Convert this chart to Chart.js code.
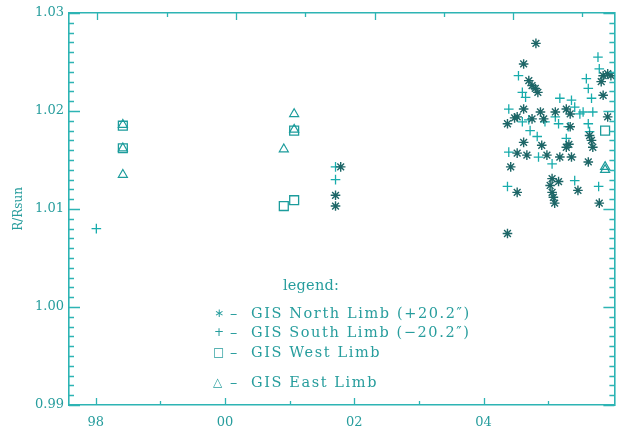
<!DOCTYPE html>
<html><head><meta charset="utf-8">
<script src="https://cdn.jsdelivr.net/npm/chart.js@4.4.1/dist/chart.umd.min.js"></script>
<style>
html,body{margin:0;padding:0;background:#fff;overflow:hidden;width:619px;height:432px;}
#wrap{position:relative;width:619px;height:432px;overflow:hidden;background:#fff;}
canvas{position:absolute;left:0;top:0;}
.lg{position:absolute;font-family:"DejaVu Serif",serif;font-size:14.5px;color:#279d9d;white-space:nowrap;letter-spacing:1.6px;line-height:16px;}
.sym{position:absolute;font-family:"DejaVu Sans",sans-serif;font-size:12px;color:#279d9d;line-height:16px;}
</style></head><body>
<div id="wrap">
<canvas id="c" width="622" height="432"></canvas>
<div class="lg" style="left:283px;top:277px;letter-spacing:0.2px;">legend:</div>
<div class="sym" style="left:214px;top:305px;">∗</div><div class="lg" style="left:230px;top:305px;">–</div><div class="lg" style="left:251px;top:305px;">GIS North Limb (+20.2″)</div>
<div class="sym" style="left:214px;top:324px;">+</div><div class="lg" style="left:230px;top:324px;">–</div><div class="lg" style="left:251px;top:324px;">GIS South Limb (−20.2″)</div>
<div class="sym" style="left:213px;top:344px;">□</div><div class="lg" style="left:230px;top:344px;">–</div><div class="lg" style="left:251px;top:344px;">GIS West Limb</div>
<div class="sym" style="left:213px;top:374px;">△</div><div class="lg" style="left:230px;top:374px;">–</div><div class="lg" style="left:251px;top:374px;">GIS East Limb</div>
</div>
<script>
// ---- data ----
const xTickYears  = [1998, 1999, 2000, 2001, 2002, 2003, 2004, 2005];
const xTickLabels = ['98', '', '00', '', '02', '', '04', ''];
const topTickValues = [0, 1, 2, 3, 4, 5, 6, 7];
const yMajorTicks = [0.99, 1.00, 1.01, 1.02, 1.03];
const yTickLabels = ['0.99', '1.00', '1.01', '1.02', '1.03'];

const northYears = [2001.79, 2001.71, 2001.71,
  2004.81, 2004.62, 2004.70, 2004.75, 2004.80, 2004.84, 2004.62, 2004.52, 2004.48, 2004.37,
  2004.75, 2004.88, 2004.93, 2005.11, 2005.28, 2005.34, 2005.28, 2005.32, 2005.36, 2004.62,
  2004.90, 2004.52, 2004.67, 2004.98, 2005.18, 2004.42, 2004.52, 2005.06, 2005.03, 2005.06,
  2005.08, 2005.10, 2005.16, 2005.46, 2005.62, 2005.64, 2005.67, 2005.69, 2005.79, 2005.85,
  2005.92, 2005.82, 2005.85, 2005.92, 2005.97, 2005.34, 2004.37];
const northValues = [1.0143, 1.0114, 1.0103,
  1.0269, 1.0248, 1.0231, 1.0226, 1.0223, 1.0219, 1.0202, 1.0194, 1.0193, 1.0187,
  1.0192, 1.0199, 1.0192, 1.0199, 1.0202, 1.0197, 1.0163, 1.0166, 1.0153, 1.0168,
  1.0165, 1.0157, 1.0155, 1.0155, 1.0153, 1.0143, 1.0117, 1.0131, 1.0124, 1.0117,
  1.0112, 1.0106, 1.0128, 1.0119, 1.0148, 1.0175, 1.0170, 1.0163, 1.0106, 1.0236,
  1.0238, 1.0230, 1.0216, 1.0194, 1.0236, 1.0184, 1.0075];

const southYears = [1998.01, 2001.71, 2001.71,
  2004.54, 2004.60, 2004.65, 2004.39, 2004.60, 2004.70, 2004.72, 2004.83, 2004.39, 2004.85,
  2005.06, 2004.95, 2005.18, 2005.11, 2005.16, 2005.36, 2005.41, 2005.31, 2005.28, 2004.37,
  2005.41, 2005.77, 2005.79, 2005.59, 2005.62, 2005.67, 2005.49, 2005.69, 2005.62, 2005.64,
  2005.78, 2005.54];
const southValues = [1.0080, 1.0143, 1.0130,
  1.0236, 1.0219, 1.0214, 1.0202, 1.0189, 1.0191, 1.0180, 1.0174, 1.0158, 1.0153,
  1.0146, 1.0189, 1.0213, 1.0194, 1.0187, 1.0211, 1.0204, 1.0184, 1.0172, 1.0123,
  1.0129, 1.0255, 1.0243, 1.0233, 1.0223, 1.0213, 1.0197, 1.0199, 1.0187, 1.0179,
  1.0123, 1.0199];

const westYears  = [1998.42, 1998.42, 2000.91, 2001.07, 2001.07, 2005.88];
const westValues = [1.0185, 1.0162, 1.0103, 1.0109, 1.0180, 1.0180];

const eastYears  = [1998.42, 1998.42, 1998.42, 2001.07, 2001.07, 2000.91, 2005.88, 2005.88];
const eastValues = [1.0186, 1.0162, 1.0135, 1.0197, 1.0181, 1.0161, 1.0143, 1.0140];

// ---- styling ----
const AXIS = '#2db4b4';
const TXT = '#279d9d';
const FONT = 'DejaVu Serif';
const X_MIN = 1997.587, X_MAX = 2006.024, Y_MIN = 0.99, Y_MAX = 1.03;
const TOP_MIN = -0.41, TOP_MAX = 7.461;

const pts = (xs, ys) => xs.map((x, i) => ({x: x, y: ys[i]}));

const inTicks = {
  id: 'inTicks',
  afterDatasetsDraw(chart) {
    const {ctx, chartArea: a, scales} = chart;
    const x = scales.x, y = scales.y, t2 = scales.x2;
    ctx.save();
    ctx.strokeStyle = AXIS;
    ctx.lineWidth = 1.3;
    ctx.beginPath();
    y.ticks.forEach(t => {
      const py = Math.round(y.getPixelForValue(t.value)) + 0.5;
      const major = Math.round(t.value * 1000) % 10 === 0;
      const L = major ? 11 : 5;
      ctx.moveTo(a.left, py); ctx.lineTo(a.left + L, py);
      ctx.moveTo(a.right, py); ctx.lineTo(a.right - L, py);
    });
    x.ticks.forEach(t => {
      const px = Math.round(x.getPixelForValue(t.value)) + 0.5;
      const major = Math.round(t.value) % 2 === 0;
      ctx.moveTo(px, a.bottom); ctx.lineTo(px, a.bottom - (major ? 7 : 4));
    });
    t2.ticks.forEach(t => {
      const px = Math.round(t2.getPixelForValue(t.value)) + 0.5;
      const major = Math.round(t.value) % 2 === 0;
      ctx.moveTo(px, a.top); ctx.lineTo(px, a.top + (major ? 7 : 4));
    });
    ctx.stroke();
    ctx.restore();
  }
};

const gridOff = {display: true, drawOnChartArea: false, drawTicks: false};
const border = {display: true, color: AXIS, width: 1.6};

new Chart(document.getElementById('c'), {
  type: 'scatter',
  data: {
    datasets: [
      {label: 'GIS North Limb', data: pts(northYears, northValues), pointStyle: 'star',
       pointRadius: 4.8, pointBorderColor: '#1d6667', pointBackgroundColor: 'rgba(0,0,0,0)', pointBorderWidth: 1.4},
      {label: 'GIS South Limb', data: pts(southYears, southValues), pointStyle: 'cross',
       pointRadius: 4.8, pointBorderColor: '#18acac', pointBackgroundColor: 'rgba(0,0,0,0)', pointBorderWidth: 1.3},
      {label: 'GIS West Limb', data: pts(westYears, westValues), pointStyle: 'rect',
       pointRadius: 6.3, pointBorderColor: '#1c9c9c', pointBackgroundColor: 'rgba(0,0,0,0)', pointBorderWidth: 1.3},
      {label: 'GIS East Limb', data: pts(eastYears, eastValues), pointStyle: 'triangle',
       pointRadius: 5.2, pointBorderColor: '#1c9c9c', pointBackgroundColor: 'rgba(0,0,0,0)', pointBorderWidth: 1.2}
    ]
  },
  options: {
    responsive: false,
    animation: false,
    devicePixelRatio: 1,
    layout: {padding: 0},
    plugins: {legend: {display: false}, tooltip: {enabled: false}},
    scales: {
      x: {
        type: 'linear', position: 'bottom', min: X_MIN, max: X_MAX, bounds: 'data',
        afterBuildTicks: s => { s.ticks = xTickYears.map(v => ({value: v})); },
        afterFit: s => { s.height = 27; },
        grid: gridOff, border: border,
        ticks: {autoSkip: false, maxRotation: 0, minRotation: 0, padding: 10, color: TXT,
                font: {family: FONT, size: 13},
                callback: v => { const i = xTickYears.indexOf(Math.round(v)); return i >= 0 ? xTickLabels[i] : ''; }}
      },
      x2: {
        type: 'linear', position: 'top', min: TOP_MIN, max: TOP_MAX, bounds: 'data',
        afterBuildTicks: s => { s.ticks = topTickValues.map(v => ({value: v})); },
        afterFit: s => { s.height = 13; },
        grid: gridOff, border: border, ticks: {display: false}
      },
      y: {
        type: 'linear', position: 'left', min: Y_MIN, max: Y_MAX, bounds: 'data',
        afterBuildTicks: s => {
          const t = [];
          for (let k = Math.round(Y_MIN * 1000); k <= Math.round(Y_MAX * 1000); k++) t.push({value: k / 1000});
          s.ticks = t;
        },
        afterFit: s => { s.width = 69; },
        grid: gridOff, border: border,
        ticks: {autoSkip: false, padding: 5, color: TXT, font: {family: FONT, size: 13},
                callback: v => { const i = yMajorTicks.findIndex(m => Math.abs(m - v) < 1e-6); return i >= 0 ? yTickLabels[i] : ''; }},
        title: {display: true, text: 'R/Rsun', color: TXT, font: {family: FONT, size: 12}, padding: {top: 12, bottom: 0}}
      },
      y2: {
        type: 'linear', position: 'right', min: Y_MIN, max: Y_MAX, bounds: 'data',
        afterFit: s => { s.width = 2; },
        grid: gridOff, border: border, ticks: {display: false}
      }
    }
  },
  plugins: [inTicks]
});
</script>
</body></html>
